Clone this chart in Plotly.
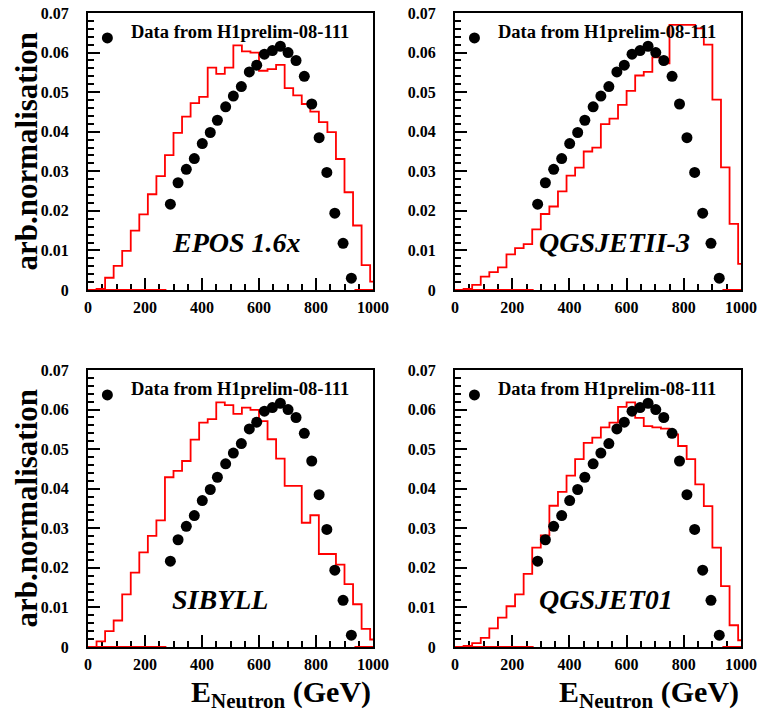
import plotly.graph_objects as go

W, H = 758, 712

# ---- data ----
BIN_EDGES = [0, 30, 60, 90, 120, 150, 180, 210, 240, 270, 300, 330, 360, 390, 420,
             450, 480, 510, 540, 570, 600, 630, 660, 690, 720, 750, 780, 810, 840,
             870, 900, 930, 960, 990, 1020]

EPOS = [0, 0.0003, 0.0031, 0.0061, 0.0099, 0.0150, 0.0191, 0.0242, 0.0288, 0.0341,
        0.0397, 0.0438, 0.0472, 0.0488, 0.0562, 0.0546, 0.0562, 0.0618, 0.0603, 0.0600,
        0.0554, 0.0558, 0.0569, 0.0510, 0.0492, 0.0470, 0.0451, 0.0424, 0.0399, 0.0331,
        0.0247, 0.0163, 0.0063, 0.0021]
QGSJETII = [0, 0.0003, 0.0013, 0.0034, 0.0045, 0.0057, 0.0090, 0.0106, 0.0116, 0.0153,
            0.0192, 0.0211, 0.0249, 0.0289, 0.0309, 0.0350, 0.0360, 0.0419, 0.0433, 0.0468,
            0.0503, 0.0542, 0.0551, 0.0588, 0.0573, 0.0670, 0.0670, 0.0670, 0.0661, 0.0620,
            0.0481, 0.0310, 0.0167, 0.0066]
SIBYLL = [0, 0.0014, 0.0040, 0.0067, 0.0133, 0.0188, 0.0239, 0.0281, 0.0320, 0.0429,
          0.0445, 0.0470, 0.0524, 0.0567, 0.0576, 0.0618, 0.0611, 0.0589, 0.0605, 0.0599,
          0.0571, 0.0525, 0.0476, 0.0407, 0.0407, 0.0314, 0.0333, 0.0235, 0.0235, 0.0208,
          0.0159, 0.0108, 0.0046, 0.0019]
QGSJET01 = [0, 0.0003, 0.0010, 0.0023, 0.0047, 0.0074, 0.0103, 0.0133, 0.0185, 0.0251,
            0.0282, 0.0357, 0.0392, 0.0433, 0.0475, 0.0516, 0.0529, 0.0555, 0.0567, 0.0607,
            0.0618, 0.0579, 0.0558, 0.0555, 0.0552, 0.0537, 0.0508, 0.0475, 0.0411, 0.0356,
            0.0251, 0.0154, 0.0055, 0.0017]

DATA_E = [289, 316, 345, 373, 401, 429, 454, 483, 510, 538, 566, 592, 619, 647, 675,
          702, 730, 759, 785, 811, 838, 866, 895, 924]
DATA_V = [0.0217, 0.0271, 0.0305, 0.0332, 0.0370, 0.0398, 0.0429, 0.0463, 0.0490, 0.0514,
          0.0551, 0.0568, 0.0596, 0.0605, 0.0616, 0.0600, 0.0580, 0.0540, 0.0470, 0.0385,
          0.0297, 0.0194, 0.0118, 0.0030]

# empty (zero) data-bin ranges drawn in red along the baseline
ZERO_RANGES = [(0, 275), (935, 1000)]

MODELS = ["EPOS 1.6x", "QGSJETII-3", "SIBYLL", "QGSJET01"]
MODEL_VALUES = [EPOS, QGSJETII, SIBYLL, QGSJET01]

Y_TICKS = [0, 0.01, 0.02, 0.03, 0.04, 0.05, 0.06, 0.07]
Y_TICKTEXT = ["0", "0.01", "0.02", "0.03", "0.04", "0.05", "0.06", "0.07"]
X_TICKS = [0, 200, 400, 600, 800, 1000]

LEGEND_TEXT = "Data from H1prelim-08-111"
Y_TITLE = "arb.normalisation"
X_TITLE = "E<sub>Neutron</sub> (GeV)"

FONT = "Liberation Serif, Times New Roman, serif"


def px_x(p):
    return p / W


def px_y(p):
    return 1 - p / H


# ---- layout geometry (screen pixels) ----
XDOM = [(px_x(88), px_x(373)), (px_x(455), px_x(741))]
YDOM = [(px_y(290), px_y(13)), (px_y(647), px_y(370))]

fig = go.Figure()
layout = dict(width=W, height=H, margin=dict(l=0, r=0, t=0, b=0, autoexpand=False),
              paper_bgcolor="white", plot_bgcolor="white", showlegend=False)

annotations = []
for i, (name, vals) in enumerate(zip(MODELS, MODEL_VALUES)):
    row, col = divmod(i, 2)
    n = i + 1
    xa = "x" if n == 1 else f"x{n}"
    ya = "y" if n == 1 else f"y{n}"
    xkey = "xaxis" if n == 1 else f"xaxis{n}"
    ykey = "yaxis" if n == 1 else f"yaxis{n}"

    # zero-content baseline segments
    for lo, hi in ZERO_RANGES:
        fig.add_trace(go.Scatter(x=[lo, hi], y=[0, 0], mode="lines",
                                 line=dict(color="red", width=2),
                                 xaxis=xa, yaxis=ya, hoverinfo="skip"))
    # model histogram
    fig.add_trace(go.Scatter(x=BIN_EDGES, y=vals + [vals[-1]], mode="lines",
                             line=dict(color="red", width=1.8, shape="hv"),
                             xaxis=xa, yaxis=ya, name=name))
    # data points
    fig.add_trace(go.Scatter(x=DATA_E, y=DATA_V, mode="markers",
                             marker=dict(color="black", size=11, symbol="circle"),
                             xaxis=xa, yaxis=ya, name="data"))
    # legend marker
    fig.add_trace(go.Scatter(x=[68], y=[0.0637], mode="markers",
                             marker=dict(color="black", size=11),
                             xaxis=xa, yaxis=ya, cliponaxis=False, hoverinfo="skip"))

    layout[xkey] = dict(domain=XDOM[col], range=[0, 1000], anchor=ya, automargin=False,
                        showline=True, mirror=True, linecolor="black", linewidth=2,
                        ticks="inside", ticklen=12, tickwidth=1.5, tickcolor="black",
                        tickvals=X_TICKS, showgrid=False, zeroline=False,
                        minor=dict(ticks="inside", ticklen=6, dtick=50, tickwidth=1.5,
                                   tickcolor="black", showgrid=False),
                        tickfont=dict(family=FONT, size=16, color="black", weight="bold"),
                        ticklabelstandoff=2, ticklabeloverflow="allow",
                        layer="below traces")
    layout[ykey] = dict(domain=YDOM[row], range=[0, 0.07], anchor=xa, automargin=False,
                        showline=True, mirror=True, linecolor="black", linewidth=2,
                        ticks="inside", ticklen=12, tickwidth=1.5, tickcolor="black",
                        tickvals=Y_TICKS, ticktext=Y_TICKTEXT, showgrid=False, zeroline=False,
                        minor=dict(ticks="inside", ticklen=6, dtick=0.002, tickwidth=1.5,
                                   tickcolor="black", showgrid=False),
                        tickfont=dict(family=FONT, size=16, color="black", weight="bold"),
                        ticklabelstandoff=14, ticklabeloverflow="allow",
                        layer="below traces")

    annotations.append(dict(x=145, y=0.0652, xref=xa, yref=ya, text=f"<b>{LEGEND_TEXT}</b>",
                            showarrow=False, xanchor="left", yanchor="middle",
                            font=dict(family=FONT, size=18.5, color="black")))
    annotations.append(dict(x=286, y=0.0119, xref=xa, yref=ya, text=f"<b><i>{name}</i></b>",
                            showarrow=False, xanchor="left", yanchor="middle",
                            font=dict(family=FONT, size=28, color="black")))

# y-axis titles (left column)
for row in range(2):
    yc = (YDOM[row][0] + YDOM[row][1]) / 2
    annotations.append(dict(x=px_x(26), y=yc, xref="paper", yref="paper",
                            text=f"<b>{Y_TITLE}</b>", textangle=-90, showarrow=False,
                            xanchor="center", yanchor="middle",
                            font=dict(family=FONT, size=31, color="black")))
# x-axis titles (bottom row)
for col in range(2):
    annotations.append(dict(x=XDOM[col][1], y=px_y(694), xref="paper", yref="paper",
                            text=f"<b>{X_TITLE}</b>", showarrow=False,
                            xanchor="right", yanchor="middle",
                            font=dict(family=FONT, size=30, color="black")))

layout["annotations"] = annotations
fig.update_layout(**layout)
# remove the default 8px page margin so the figure fills the window exactly
fig.write_html("out.html",
               config={"displayModeBar": False},
               post_script="document.documentElement.style.margin='0';"
                           "document.body.style.margin='0';"
                           "document.body.style.overflow='hidden';")
